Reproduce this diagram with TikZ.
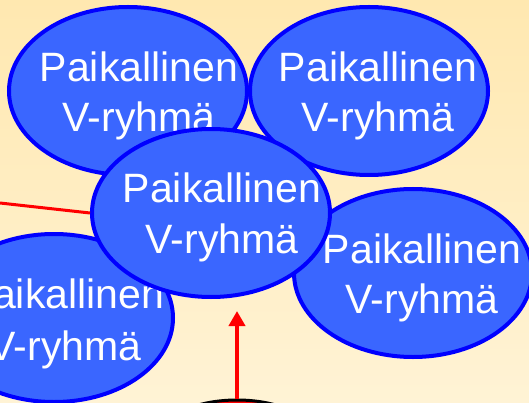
\documentclass[tikz,border=0pt]{standalone}
\usepackage{fontspec}
\setmainfont{Liberation Sans}
\usetikzlibrary{shapes.geometric,arrows.meta}
\definecolor{bgtop}{RGB}{255,232,176}
\definecolor{bgbot}{RGB}{255,243,213}
\definecolor{vfill}{RGB}{58,102,255}
\definecolor{vline}{RGB}{0,0,255}
\tikzset{
  vgroup/.style={ellipse, draw=vline, fill=vfill, line width=4pt, inner sep=0pt,
    minimum width=238pt, minimum height=168pt},
  vtext/.style={text=white, anchor=base, inner sep=0pt, font=\fontsize{41}{50}\selectfont},
  redline/.style={draw=red, line width=3pt},
  redarrow/.style={draw=red, line width=4pt, -{Triangle[width=16pt,length=15pt]}},
}
\begin{document}
\begin{tikzpicture}[x=1pt,y=-1pt]
\shade[top color=bgtop, bottom color=bgbot] (0,0) rectangle (529,403);
\useasboundingbox (0,0) rectangle (529,403);
% bottom partial ellipse
\node[ellipse, draw=black, fill=red, line width=3pt, minimum width=160pt, minimum height=80pt, inner sep=0pt] (bot) at (237,440) {};
\coordinate (tip) at (237,311);
\draw[redarrow] (bot.north) -- (tip);
% left red line
\coordinate (lft) at (0,203);
% groups
\node[vgroup] (tl) at (128,91) {};
\node[vtext] (tl1) at (139,82) {Paikallinen};
\node[vtext] (tl2) at (139,132) {V-ryhmä};
\node[vgroup] (tr) at (369,91) {};
\node[vtext] (tr1) at (378,82) {Paikallinen};
\node[vtext] (tr2) at (378,132) {V-ryhmä};
\node[vgroup] (r) at (413,273) {};
\node[vtext] (r1) at (422,263) {Paikallinen};
\node[vtext] (r2) at (422,313) {V-ryhmä};
\node[vgroup] (bl) at (54,318) {};
\node[vtext] (bl1) at (65,308) {Paikallinen};
\node[vtext] (bl2) at (65,360) {V-ryhmä};
\node[vgroup] (c) at (211,213) {};
\node[vtext] (c1) at (222,203) {Paikallinen};
\node[vtext] (c2) at (222,253) {V-ryhmä};
\draw[redline] (lft) -- (c.west);
\end{tikzpicture}
\end{document}
